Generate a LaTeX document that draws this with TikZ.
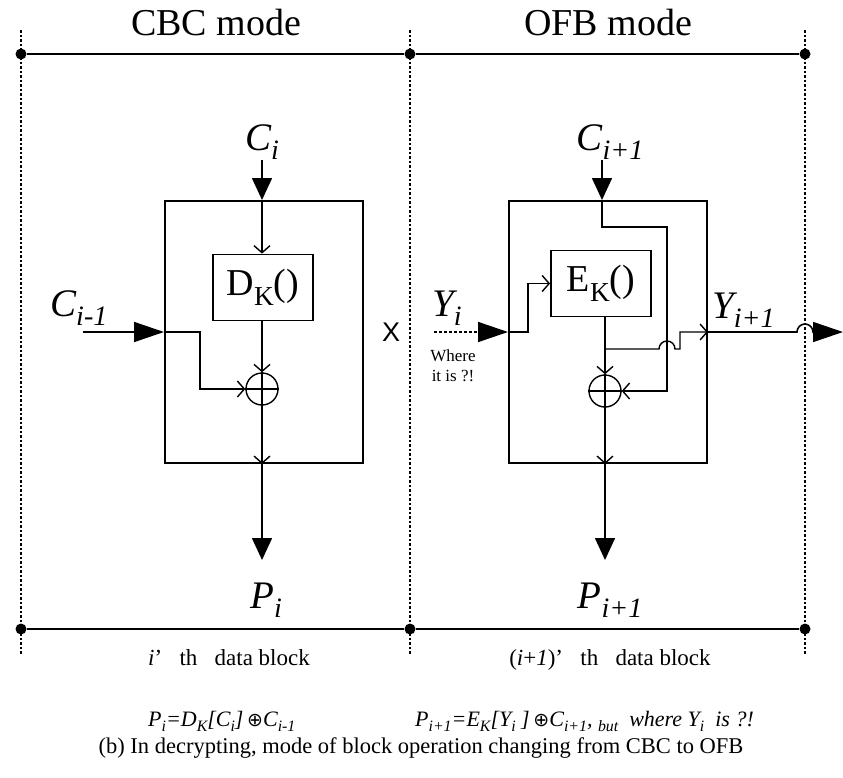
\documentclass[tikz,border=0pt]{standalone}
\usepackage{fontspec}
\usepackage{graphicx}
\setmainfont{Liberation Serif}
\newfontfamily\sansfont{Liberation Sans}
\newfontfamily\symfont{DejaVu Sans}
\usetikzlibrary{arrows.meta,positioning}
\newcommand{\lo}[1]{\raisebox{-0.25em}{\scalebox{0.72}{#1}}}
\newcommand{\fs}[1]{\fontsize{#1}{#1}\selectfont}

\tikzset{
  frameline/.style={line width=1.8pt},
  sepline/.style={line width=1.3pt,dash pattern=on 2.5pt off 2pt},
  framedot/.style={circle,fill,inner sep=0pt,minimum size=11pt},
  outerbox/.style={draw,line width=2pt,minimum width=198pt,minimum height=262pt,inner sep=0pt},
  cipherbox/.style={draw,line width=1.8pt,minimum width=100pt,minimum height=66pt,inner sep=0pt,font=\fs{38}},
  xorgate/.style={circle,draw,line width=1.4pt,minimum size=32pt,inner sep=0pt},
  wire/.style={line width=1.4pt},
  barb/.style={wire,-{Straight Barb[length=7pt,width=16pt]}},
  bigarrow/.style={line width=1.6pt,-{Triangle[length=22pt,width=20pt]}},
  sidearrow/.style={line width=1.6pt,-{Triangle[length=30pt,width=20pt]}},
  modetitle/.style={anchor=base,font=\fs{38},inner sep=0pt},
  varlabel/.style={anchor=base,font=\fs{39}\itshape,inner sep=0pt},
  blocklabel/.style={anchor=base,font=\fs{23},inner sep=0pt},
  formula/.style={anchor=base west,font=\fs{22}\itshape,inner sep=0pt},
}

\begin{document}
\begin{tikzpicture}[x=1pt,y=-1pt]
\useasboundingbox (0,0) rectangle (843,777);
% block frame
\foreach \x in {21,410,805}
  \draw[sepline] (\x,30) -- (\x,655);
\node[framedot] (tl) at (21,54) {};
\node[framedot] (tm) at (410,54) {};
\node[framedot] (tr) at (805,54) {};
\node[framedot] (bl) at (21,629) {};
\node[framedot] (bm) at (410,629) {};
\node[framedot] (br) at (805,629) {};
\draw[frameline] (tl) -- (tm) -- (tr);
\draw[frameline] (bl) -- (bm) -- (br);
\node[modetitle] (cbctitle) at (216,35) {CBC mode};
\node[modetitle] (ofbtitle) at (608,35) {OFB mode};

% CBC decryption
\node[outerbox] (cbcbox) at (264,332) {};
\node[cipherbox] (dk) at (263,287.5) {D\lo{K}()};
\node[xorgate] (xa) at (262,389) {};
\draw[wire] (xa.north) -- (xa.south) (xa.west) -- (xa.east);
\node[varlabel] (ci) at (262,150) {C\lo{i}};
\coordinate (ci-s) at (262,160);
\draw[bigarrow] (ci-s) -- (ci-s |- cbcbox.north);
\draw[barb] (ci-s |- cbcbox.north) -- (ci-s |- dk.north);
\draw[barb] (xa |- dk.south) -- (xa.north);
\draw[barb] (xa.south) -- (xa |- cbcbox.south);
\coordinate (pi-e) at (262,560);
\draw[bigarrow] (xa |- cbcbox.south) -- (pi-e);
\node[varlabel] (pi) at (266,608) {P\lo{i}};
\node[varlabel,anchor=base west] (cim1) at (50,316) {C\lo{i-1}};
\coordinate (cim1-s) at (83,332);
\coordinate (cbc-bend) at (200,332);
\draw[sidearrow] (cim1-s) -- (cim1-s -| cbcbox.west);
\draw[barb] (cim1-s -| cbcbox.west) -- (cbc-bend) |- (xa.west);
\node[font=\sansfont\fs{27}] (cross) at (391,332) {X};

% OFB decryption
\node[outerbox] (ofbbox) at (608,332) {};
\node[cipherbox] (ek) at (601,283.5) {E\lo{K}()};
\node[xorgate] (xb) at (605,391) {};
\draw[wire] (xb.north) -- (xb.south) (xb.west) -- (xb.east);
\node[varlabel] (cip1) at (610,150) {C\lo{i+1}};
\coordinate (cip1-s) at (602,160);
\coordinate (fb-a) at (602,227);
\coordinate (fb-r) at (667,391);
\draw[bigarrow] (cip1-s) -- (cip1-s |- ofbbox.north);
\draw[barb] (cip1-s |- ofbbox.north) -- (fb-a) -- (fb-a -| fb-r) -- (fb-r) -- (xb.east);
\draw[barb] (xb |- ek.south) -- (xb.north);
\draw[barb] (xb.south) -- (xb |- ofbbox.south);
\coordinate (pip1-e) at (605,560);
\draw[bigarrow] (xb |- ofbbox.south) -- (pip1-e);
\node[varlabel] (pip1) at (610,608) {P\lo{i+1}};
% Y_i comes from nowhere
\node[varlabel,anchor=base west] (yi) at (432,316) {Y\lo{i}};
\coordinate (yi-s) at (434,332);
\coordinate (yi-m) at (478,332);
\coordinate (yi-bend) at (528,332);
\draw[wire,dash pattern=on 3pt off 2pt] (yi-s) -- (yi-m);
\draw[sidearrow] (yi-m) -- (yi-m -| ofbbox.west);
\draw[barb] (yi-m -| ofbbox.west) -- (yi-bend) |- (ek.west);
\node[align=center,font=\fs{17},inner sep=0pt] (where) at (453,366) {Where\\[3pt]it is ?!};
% output Y_{i+1}
\coordinate (br-a) at (605,349);
\coordinate (br-b) at (680,332);
\draw[barb] (br-a) -- (659,349) arc[start angle=180,end angle=360,radius=8] -- (br-b |- br-a) -- (br-b) -- (br-b -| ofbbox.east);
\coordinate (yout-e) at (843,332);
\draw[sidearrow] (br-b -| ofbbox.east) -- (797,332) arc[start angle=180,end angle=360,radius=8] -- (yout-e);
\node[varlabel,anchor=base west] (yip1) at (712,318) {Y\lo{i+1}};

% block numbers and formulas
\node[blocklabel] (blki) at (229,665) {\textit{i}’ \ \ th \ \ data block};
\node[blocklabel] (blkip1) at (610,665) {(\textit{i}+\textit{1})’ \ \ th \ \ data block};
\node[formula] (eqcbc) at (148,726)
  {P\lo{i}=D\lo{K}[C\lo{i}]\,{\symfont\fs{19}⊕}C\lo{i-1}};
\node[formula] (eqofb) at (415,726)
  {P\lo{i+1}=E\lo{K}[Y\lo{i} ]\,{\symfont\fs{19}⊕}C\lo{i+1}, \lo{but} \ where Y\lo{i} \ is ?!};
\node[blocklabel,font=\fs{22.5}] (caption) at (421,753)
  {(b) In decrypting, mode of block operation changing from CBC to OFB};
\end{tikzpicture}
\end{document}
